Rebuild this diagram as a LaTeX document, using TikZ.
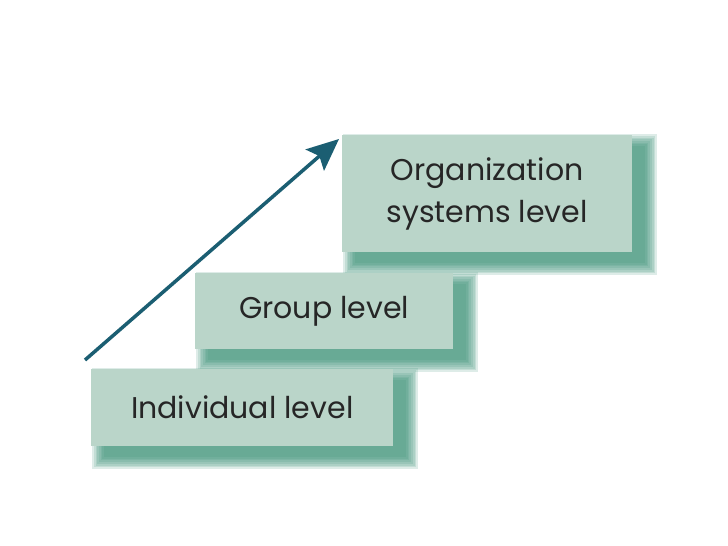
\documentclass[tikz,border=0pt]{standalone}
\usepackage{fontspec}
\setmainfont{Poppins}
\usetikzlibrary{arrows.meta}
\definecolor{boxfill}{HTML}{BAD5C9}
\definecolor{shadowc}{HTML}{3F9478}
\definecolor{arrowc}{HTML}{1B5E72}
\definecolor{textc}{HTML}{262626}
\tikzset{
  levelbox/.style={draw=none, fill=boxfill, inner sep=0pt, anchor=north west,
    text=textc, font=\fontsize{30}{42}\selectfont, align=center},
}
\newcommand{\softshadow}[4]{%
  \foreach \k in {0,...,7}{
    \fill[shadowc, opacity=0.17] ({#1+13-\k*1.7},{#2+11-\k*1.7}) rectangle ({#3+13+\k*1.7},{#4+11+\k*1.7});
  }
}
\begin{document}
\begin{tikzpicture}[x=1pt,y=-1pt]
\useasboundingbox (0,0) rectangle (728,546);
\fill[white] (0,0) rectangle (728,546);
% shadows
\softshadow{342}{135}{632}{252}
\softshadow{195}{273}{453}{349}
\softshadow{91}{369}{393}{446}
% boxes
\node[levelbox, minimum width=290pt, minimum height=117pt] (org) at (342,135) {Organization\\systems level};
\node[levelbox, minimum width=258pt, minimum height=76pt] (grp) at (195,273) {Group level};
\node[levelbox, minimum width=302pt, minimum height=77pt] (ind) at (91,369) {Individual level};
% arrow
\coordinate (astart) at (85,360);
\coordinate (aend) at (339,139);
\draw[arrowc, line width=3.5pt, -{Stealth[length=32pt,width=28pt,inset=6pt]}] (astart) -- (aend);
\end{tikzpicture}
\end{document}
